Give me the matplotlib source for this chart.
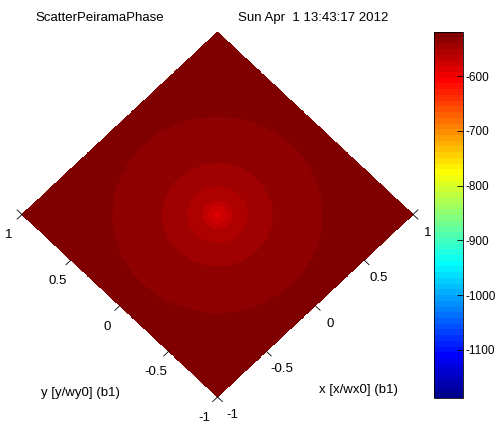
import numpy as np
import matplotlib
matplotlib.use("Agg")
import matplotlib.pyplot as plt
from matplotlib.colors import ListedColormap, Normalize
from matplotlib.transforms import Affine2D
import matplotlib.cm as cm

plt.rcParams['font.family'] = ['Liberation Sans', 'DejaVu Sans']

# ---- data ----
title_left = "ScatterPeiramaPhase"
title_right = "Sun Apr  1 13:43:17 2012"
x_label = "x [x/wx0] (b1)"
y_label = "y [y/wy0] (b1)"
axis_ticks = [-1, -0.5, 0, 0.5, 1]
axis_tick_labels = ["-1", "-0.5", "0", "0.5", "1"]
cbar_ticks = [-1100, -1000, -900, -800, -700, -600]
cbar_tick_labels = ["-1100", "-1000", "-900", "-800", "-700", "-600"]
clim = (-1187.6, -519.7)
# radial bands of the phase surface (radius edges, value in each band)
band_edges = [0.03, 0.07, 0.11, 0.22, 0.40, 0.76]
band_values = [-587.5, -577.1, -566.6, -556.2, -545.8, -535.3, -524.9]


def matlab_jet(m=64):
    n = int(np.ceil(m / 4))
    u = np.concatenate([np.arange(1, n + 1) / n, np.ones(n - 1), np.arange(n, 0, -1) / n])
    g = int(np.ceil(n / 2)) - (1 if m % 4 == 1 else 0) + np.arange(1, len(u) + 1)
    r = g + n
    b = g - n
    g = g[g <= m]
    r = r[r <= m]
    b = b[b >= 1]
    J = np.zeros((m, 3))
    J[r - 1, 0] = u[:len(r)]
    J[g - 1, 1] = u[:len(g)]
    J[b - 1, 2] = u[len(u) - len(b):]
    return J


cmap = ListedColormap(matlab_jet(64))
norm = Normalize(vmin=clim[0], vmax=clim[1])

W, H = 499, 424
fig = plt.figure(figsize=(W / 100, H / 100), dpi=100)

# main axes covering the diamond
ax = fig.add_axes([22 / W, (H - 397) / H, (413 - 22) / W, (397 - 32) / H])
ax.set_xlim(-np.sqrt(2), np.sqrt(2))
ax.set_ylim(-np.sqrt(2), np.sqrt(2))
ax.axis('off')
rot = Affine2D().rotate_deg(45) + ax.transData

xs = np.linspace(-1, 1, 401)
X, Y = np.meshgrid(xs, xs)
R = np.sqrt(X ** 2 + Y ** 2)
Z = np.array(band_values)[np.digitize(R, band_edges)]
ax.pcolormesh(X, Y, Z, cmap=cmap, norm=norm, shading='nearest',
              transform=rot, antialiased=False, linewidth=0, zorder=1)

fs = 9.5
tl = 0.05
# y-axis ticks along x = -1
for yv, lab in zip(axis_ticks, axis_tick_labels):
    ax.plot([-1, -1 - tl], [yv, yv], color='k', lw=0.6, transform=rot, clip_on=False)
    ax.annotate(lab, xy=(-1, yv), xycoords=rot, xytext=(-13, -21),
                textcoords='offset pixels', ha='center', va='center', fontsize=fs,
                annotation_clip=False)
# x-axis ticks along y = -1
for xv, lab in zip(axis_ticks, axis_tick_labels):
    ax.plot([xv, xv], [-1, -1 - tl], color='k', lw=0.6, transform=rot, clip_on=False)
    ax.annotate(lab, xy=(xv, -1), xycoords=rot, xytext=(15, -18),
                textcoords='offset pixels', ha='center', va='center', fontsize=fs,
                annotation_clip=False)
# extra corner marks
ax.plot([-1, -1], [1, 1 + tl], color='k', lw=0.6, transform=rot, clip_on=False)
ax.plot([1, 1 + tl], [-1, -1], color='k', lw=0.6, transform=rot, clip_on=False)

fig.text(80 / W, 1 - 393 / H, y_label, ha='center', va='center', fontsize=fs)
fig.text(358 / W, 1 - 390 / H, x_label, ha='center', va='center', fontsize=fs)
fig.text(35 / W, 1 - 18 / H, title_left, ha='left', va='center', fontsize=fs)
fig.text(238 / W, 1 - 18 / H, title_right, ha='left', va='center', fontsize=fs)

# colorbar
cax = fig.add_axes([434 / W, (H - 398) / H, 29 / W, 366 / H])
sm = cm.ScalarMappable(norm=norm, cmap=cmap)
cb = fig.colorbar(sm, cax=cax)
cb.set_ticks(cbar_ticks)
cb.set_ticklabels(cbar_tick_labels)
cb.outline.set_linewidth(0.6)
cax.tick_params(axis='y', direction='in', length=4, width=0.6, labelsize=8.5, pad=2)

fig.savefig("out.png", dpi=100)
